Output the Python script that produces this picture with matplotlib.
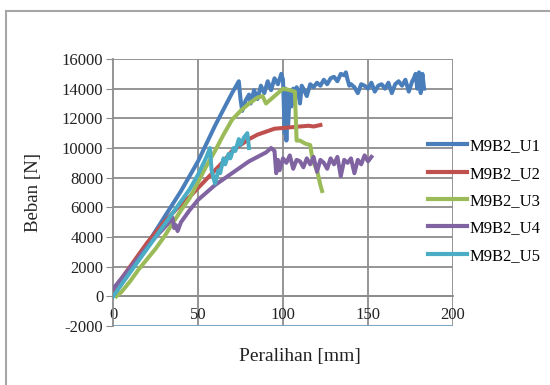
import matplotlib
matplotlib.use("Agg")
import matplotlib.pyplot as plt
from matplotlib.lines import Line2D

# load-deflection data
u1_x = [0, 10, 20, 30, 40, 50, 55, 60, 65, 70, 74, 75, 76, 78, 80, 81, 83, 85, 87, 89,
        91, 93, 95, 97, 99, 100, 101, 101.5, 102, 102.5, 103, 104, 105, 106, 107, 108,
        109, 110, 111, 112, 114, 116, 118, 120, 122, 124, 126, 128, 130, 132, 134, 136,
        137, 138, 139, 140, 142, 144, 146, 148, 150, 152, 154, 156, 158, 160, 162, 164,
        166, 168, 170, 172, 174, 176, 177, 178, 179, 180, 181, 182, 183]
u1_y = [0, 1700, 3500, 5300, 7100, 9100, 10300, 11500, 12600, 13700, 14500, 13300, 12500,
        13200, 13600, 13000, 13900, 13300, 14200, 13700, 14500, 13900, 14700, 14300, 15000,
        14600, 11000, 14000, 10500, 13500, 11500, 13800, 12800, 14000, 13200, 14100, 13800,
        13000, 14200, 14000, 13500, 14300, 14100, 14400, 14200, 14600, 14300, 14700, 14800,
        14500, 15000, 14900, 15100, 14600, 14200, 14300, 14100, 13700, 14300, 14200, 14000,
        14400, 13800, 14200, 14300, 14000, 14400, 13700, 14300, 14500, 14200, 14600, 13800,
        14500, 14700, 15000, 14000, 15100, 13700, 15000, 14000]

u2_x = [0, 5, 10, 15, 20, 25, 30, 35, 40, 45, 50, 55, 60, 65, 70, 75, 80, 85, 90, 95,
        100, 105, 110, 115, 118, 122]
u2_y = [400, 1200, 2000, 2800, 3600, 4300, 5000, 5600, 6200, 6700, 7300, 7900, 8500, 9100,
        9800, 10200, 10600, 10900, 11100, 11300, 11350, 11400, 11450, 11500, 11450, 11550]

u3_x = [2, 5, 10, 15, 20, 25, 30, 35, 40, 45, 50, 55, 60, 65, 70, 75, 80, 85, 88, 90, 92,
        95, 98, 100, 104, 107, 108, 110, 113, 116, 117, 118, 120, 122, 123]
u3_y = [0, 300, 1000, 1800, 2500, 3200, 4000, 4900, 5800, 6600, 7700, 8800, 9800, 10900,
        11900, 12500, 13000, 13400, 13500, 13000, 13200, 13500, 13800, 14000, 13900, 13800,
        10500, 10500, 10300, 10200, 9500, 9000, 8500, 7500, 7100]

u4_x = [0, 5, 10, 15, 20, 25, 30, 33, 35, 36, 37, 38, 40, 45, 50, 55, 60, 65, 70, 75, 80,
        85, 90, 93, 95, 96, 97, 98, 100, 102, 104, 106, 108, 110, 112, 114, 116, 118, 120,
        122, 124, 126, 128, 130, 132, 134, 136, 138, 140, 142, 144, 146, 148, 150, 152]
u4_y = [500, 1200, 1900, 2600, 3300, 4000, 4600, 5000, 5300, 4600, 4800, 4400, 5000, 5800,
        6500, 7000, 7500, 7900, 8300, 8700, 9100, 9400, 9700, 10000, 9800, 8300, 9200, 8500,
        9300, 9000, 9500, 8600, 9200, 9100, 8700, 9300, 8900, 9400, 8400, 9200, 9000, 8600,
        9300, 8900, 9400, 8100, 9200, 9000, 9300, 8300, 9200, 8900, 9500, 9100, 9400]

u5_x = [0, 5, 10, 15, 20, 25, 30, 35, 40, 45, 50, 55, 57, 58, 60, 62, 63, 65, 66, 68, 69,
        71, 72, 74, 75, 77, 79, 80]
u5_y = [0, 800, 1600, 2400, 3200, 4000, 4800, 5600, 6400, 7200, 8200, 9400, 10000, 8500,
        7600, 8500, 8300, 9300, 8900, 9600, 9300, 10000, 9800, 10600, 10200, 10700, 11000,
        10000]

series = [("M9B2_U1", u1_x, u1_y, "#4a7ebb"),
          ("M9B2_U2", u2_x, u2_y, "#c0504d"),
          ("M9B2_U3", u3_x, u3_y, "#9bbb59"),
          ("M9B2_U4", u4_x, u4_y, "#8064a2"),
          ("M9B2_U5", u5_x, u5_y, "#4bacc6")]

x_ticks = [0, 50, 100, 150, 200]
y_ticks = list(range(-2000, 16001, 2000))

plt.rcParams['font.family'] = ['Liberation Serif', 'DejaVu Serif']
plt.rcParams['axes.unicode_minus'] = False

fig = plt.figure(figsize=(5.5, 3.85), dpi=100)
ax = fig.add_axes([113 / 550, 1 - 326 / 385, 340 / 550, 267 / 385])

grid_c = "#8c8c8c"
for yv in y_ticks:
    if yv > -2000:
        ax.axhline(yv, color=grid_c, lw=1.3, zorder=1)
for xv in x_ticks[1:]:
    ax.axvline(xv, color=grid_c, lw=1.3, zorder=1)
ax.axhline(-2000, color="#7fa6c2", lw=1.5, zorder=1)

for name, xs, ys, c in series:
    ax.plot(xs, ys, color=c, lw=2.9, label=name, zorder=3, solid_joinstyle='round')

ax.set_xlim(0, 200)
ax.set_ylim(-2000, 16000)
ax.set_xticks(x_ticks)
ax.set_yticks(y_ticks)
ax.spines['top'].set_visible(False)
ax.spines['right'].set_visible(False)
ax.spines['bottom'].set_position(('data', 0))
ax.spines['bottom'].set_color(grid_c)
ax.spines['left'].set_color(grid_c)
ax.spines['bottom'].set_linewidth(1.3)
ax.spines['left'].set_linewidth(1.3)
ax.tick_params(axis='y', length=5, color=grid_c, labelsize=12, labelcolor="#222222", pad=2)
ax.tick_params(axis='x', length=0, labelsize=12, labelcolor="#222222", pad=8)

ax.set_ylabel("Beban [N]", fontsize=13.5, color="#222222", labelpad=14)
fig.text(300 / 550, 1 - 357 / 385, "Peralihan [mm]", fontsize=14, color="#222222",
         ha='center', va='center')

handles = [Line2D([], [], color=c, lw=3) for _, _, _, c in series]
fig.legend(handles, [s[0] for s in series], loc='upper left',
           bbox_to_anchor=(420 / 550, 1 - 130 / 385), frameon=False, fontsize=12,
           handlelength=2.3, handletextpad=0.15, labelspacing=0.68, borderpad=0)

# outer chart border (left and top edges visible)
fig.add_artist(Line2D([6 / 550, 6 / 550], [0, 1 - 11 / 385], color="#a6a6a6", lw=1.5))
fig.add_artist(Line2D([6 / 550, 1], [1 - 11 / 385, 1 - 11 / 385], color="#a6a6a6", lw=1.5))

fig.savefig("out.png", dpi=100)
